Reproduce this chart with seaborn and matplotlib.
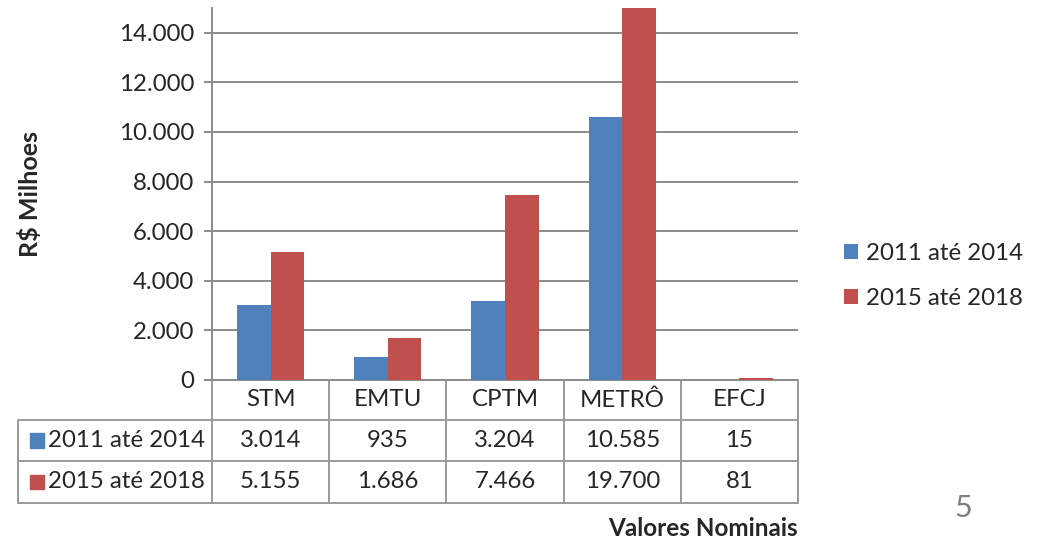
import numpy as np
import pandas as pd
import seaborn as sns
import matplotlib
matplotlib.use("Agg")
from matplotlib import pyplot as plt
from matplotlib.transforms import blended_transform_factory
from matplotlib.patches import Rectangle

# data
categories = ["STM", "EMTU", "CPTM", "METRÔ", "EFCJ"]
series = ["2011 até 2014", "2015 até 2018"]
vals_2011_2014 = [3014, 935, 3204, 10585, 15]
vals_2015_2018 = [5155, 1686, 7466, 19700, 81]
labels_2011_2014 = ["3.014", "935", "3.204", "10.585", "15"]
labels_2015_2018 = ["5.155", "1.686", "7.466", "19.700", "81"]
colors = ["#4F81BD", "#C0504D"]

df = pd.DataFrame({
    "cat": categories * 2,
    "serie": [series[0]] * 5 + [series[1]] * 5,
    "valor": vals_2011_2014 + vals_2015_2018,
})

sns.set_style("white")
plt.rcParams["font.family"] = ["Lato", "DejaVu Sans"]
fs = 17.3

fig = plt.figure(figsize=(10.38, 5.38), dpi=100)
ax = fig.add_axes([212 / 1038, 1 - 380 / 538, 586 / 1038, 372 / 538])

sns.barplot(data=df, x="cat", y="valor", hue="serie", palette=colors,
            width=0.575, saturation=1, ax=ax, legend=True, zorder=3,
            linewidth=0)

grid_c = "#8C8C8C"
ax.set_ylim(0, 15000)
ax.set_xlim(-0.5, 4.5)
ax.set_yticks(np.arange(0, 15000, 2000))
ax.set_yticklabels([f"{int(v):,}".replace(",", ".") for v in np.arange(0, 15000, 2000)],
                   fontsize=fs)
ax.yaxis.grid(True, color=grid_c, linewidth=1.4)
ax.set_axisbelow(True)
ax.tick_params(axis="y", length=6, width=1.4, color=grid_c, left=True, pad=7)
ax.set_xticks([])
ax.set_xlabel("")
ax.set_ylabel("R$ Milhoes", fontsize=18, fontweight="bold", labelpad=55)
for s in ["top", "right", "bottom"]:
    ax.spines[s].set_visible(False)
ax.spines["left"].set_color(grid_c)
ax.spines["left"].set_linewidth(1.4)

# legend on the right
h, l = ax.get_legend_handles_labels()
ax.legend(h, l, loc="center left", bbox_to_anchor=(822 / 1038, 1 - 276 / 538),
          bbox_transform=fig.transFigure, frameon=False, fontsize=fs,
          handlelength=0.6, handleheight=0.6, handletextpad=0.35,
          labelspacing=1.0)

# data table under the plot
tr = blended_transform_factory(ax.transData, ax.transAxes)
x_left = -0.5 - 194 / 117.2
rows_y = [0, -40 / 372, -81 / 372, -123 / 372]
lc = "#9A9A9A"
lw = 1.4
ax.plot([-0.56, 4.5], [0, 0], color=grid_c, lw=lw, transform=tr, clip_on=False, zorder=1)
for yy in rows_y[1:]:
    ax.plot([x_left, 4.5], [yy, yy], color=lc, lw=lw, transform=tr, clip_on=False)
for xx in np.arange(-0.5, 5.0, 1.0):
    ax.plot([xx, xx], [0, rows_y[-1]], color=lc, lw=lw, transform=tr, clip_on=False)
ax.plot([x_left, x_left], [rows_y[1], rows_y[-1]], color=lc, lw=lw, transform=tr, clip_on=False)

for i, c in enumerate(categories):
    ax.text(i, (rows_y[0] + rows_y[1]) / 2, c, ha="center", va="center",
            fontsize=fs, transform=tr)
for r, (lab, vals, col) in enumerate(zip(series, [labels_2011_2014, labels_2015_2018], colors)):
    yc = (rows_y[r + 1] + rows_y[r + 2]) / 2
    for i, v in enumerate(vals):
        ax.text(i, yc, v, ha="center", va="center", fontsize=fs, transform=tr)
    ax.add_patch(Rectangle((x_left + 12 / 117.2, yc - 0.019), 14 / 117.2, 0.038,
                           color=col, transform=tr, clip_on=False))
    ax.text(x_left + 30 / 117.2, yc, lab, ha="left", va="center",
            fontsize=fs, transform=tr)

fig.text(798 / 1038, 1 - 528 / 538, "Valores Nominais", ha="right", va="center",
         fontsize=17.5, fontweight="bold")
fig.text(963 / 1038, 1 - 508 / 538, "5", ha="center", va="center",
         fontsize=22, color="#7F7F7F")

fig.savefig("out.png", dpi=100)
